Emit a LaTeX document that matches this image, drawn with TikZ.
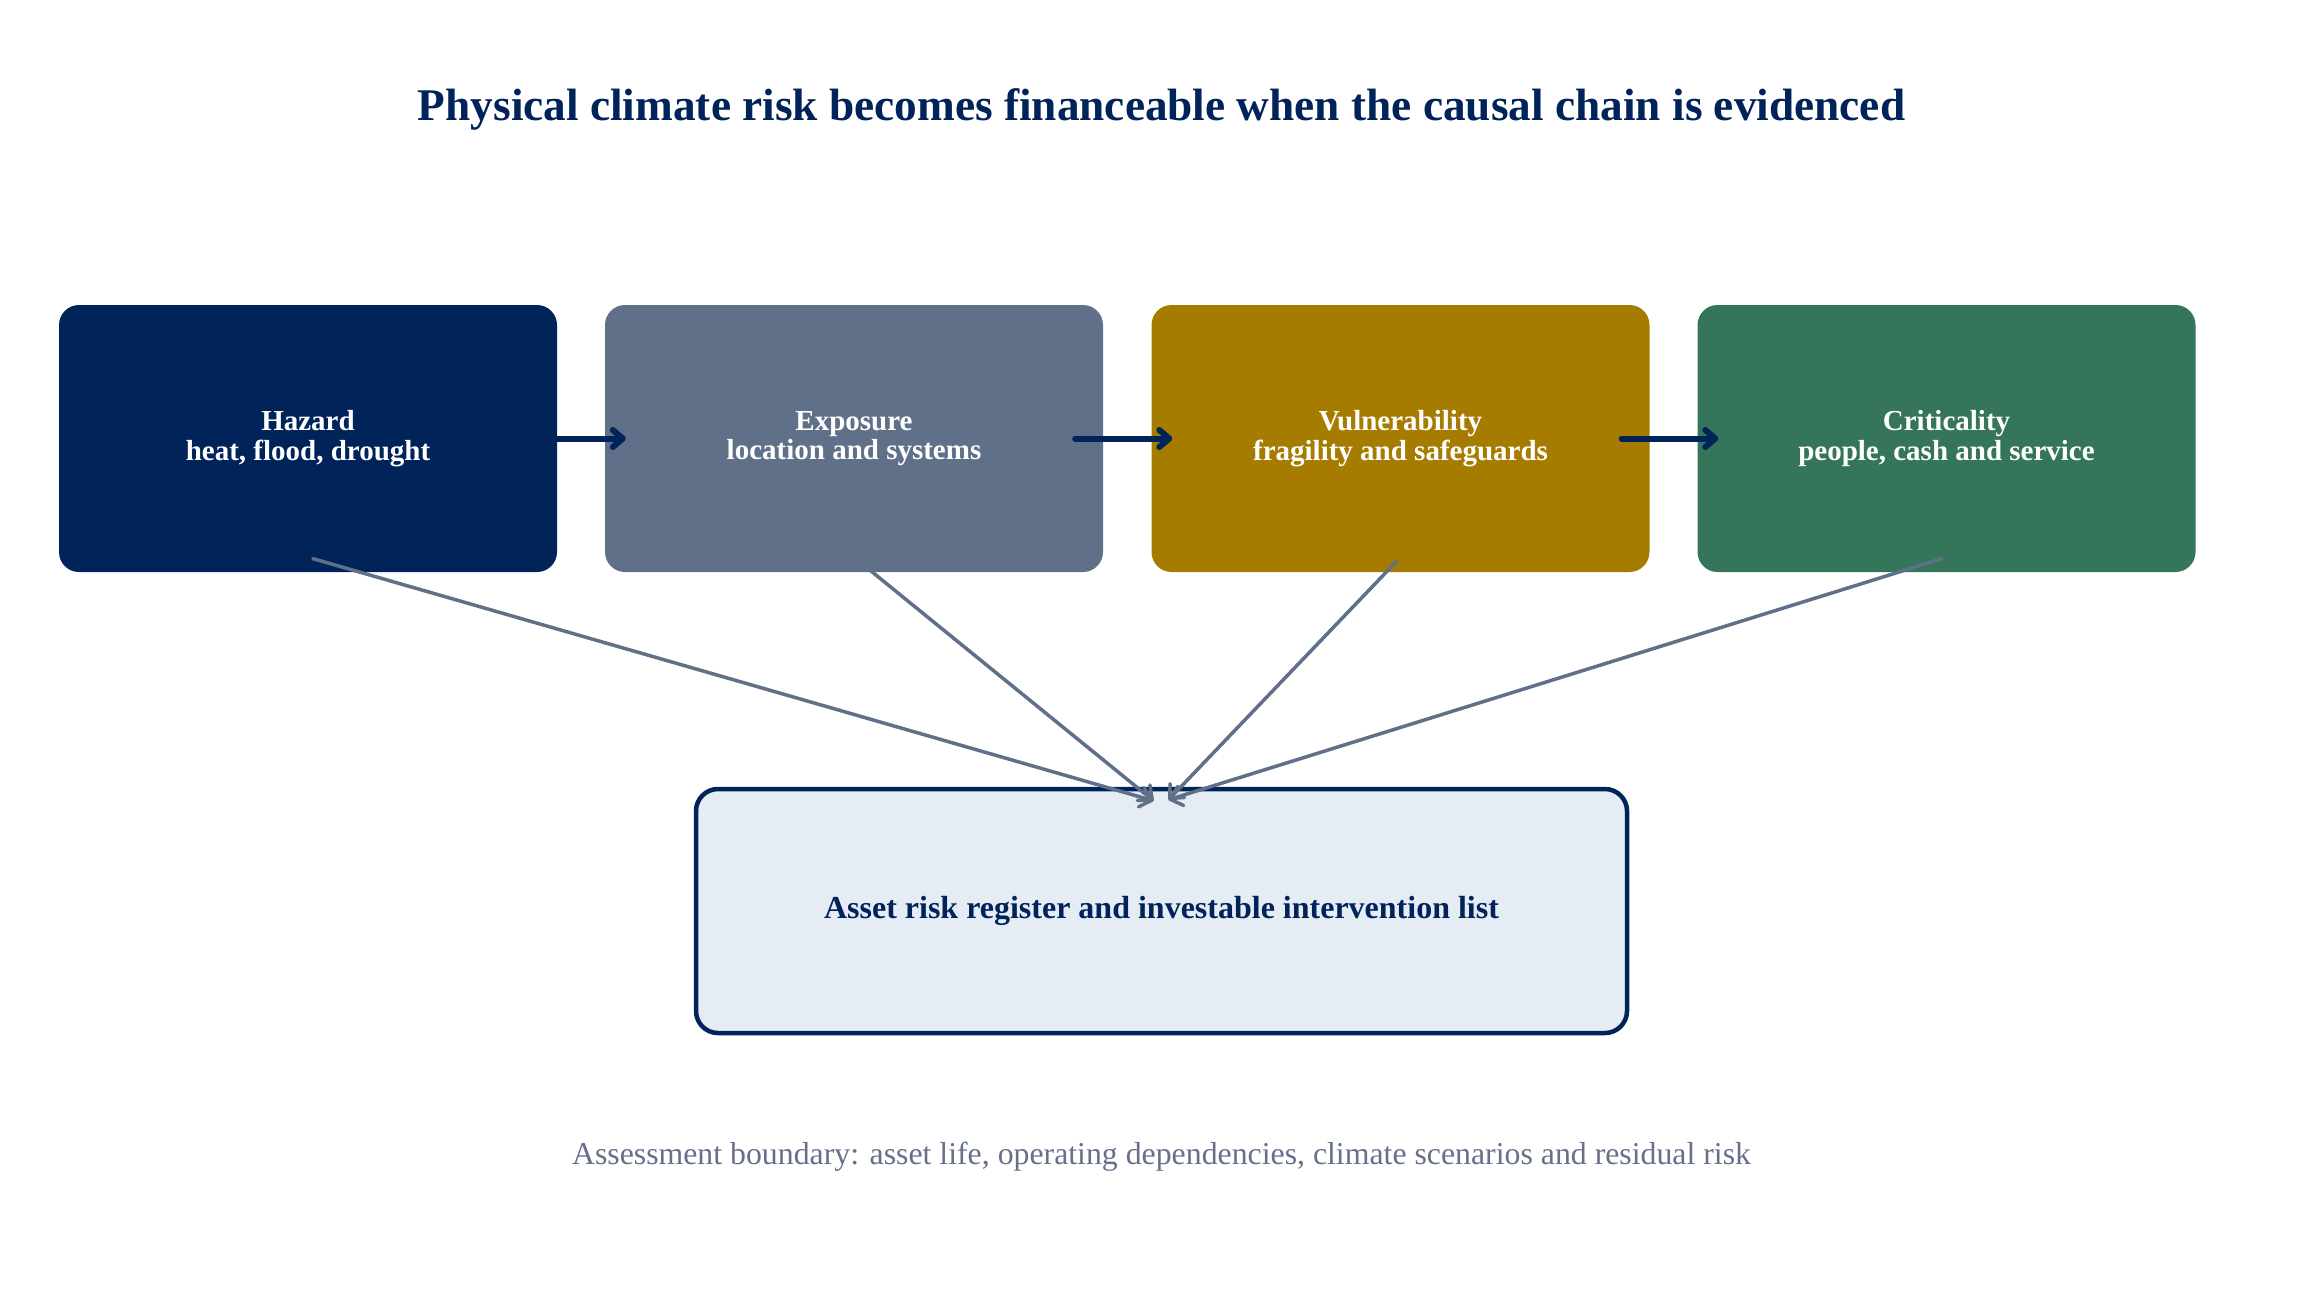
\documentclass[tikz,border=0pt]{standalone}
\usepackage{fontspec}
\setmainfont{Liberation Serif}
\usetikzlibrary{arrows.meta}
\definecolor{navy}{RGB}{0,35,90}
\definecolor{slate}{RGB}{97,112,137}
\definecolor{gold}{RGB}{166,124,0}
\definecolor{green}{RGB}{53,118,90}
\definecolor{lightfill}{RGB}{230,236,244}
\definecolor{footgray}{RGB}{102,112,138}
\tikzset{
  stagebox/.style={rectangle, rounded corners=20pt, minimum width=498pt, minimum height=267pt,
    inner sep=0pt, text=white, align=center, font=\fontsize{29}{29.6}\selectfont\bfseries},
  outbox/.style={rectangle, rounded corners=22pt, minimum width=931pt, minimum height=244pt,
    draw=navy, line width=4.5pt, fill=lightfill, text=navy, inner sep=0pt,
    font=\fontsize{32}{36}\selectfont\bfseries},
  chainarrow/.style={draw=navy, line width=6pt, line cap=round,
    -{Straight Barb[length=10pt,width=17pt,round]}},
  fanarrow/.style={draw=slate, line width=3.5pt, line cap=round, shorten <=5pt,
    -{Straight Barb[length=11pt,width=20pt,round]}},
}
\begin{document}
\begin{tikzpicture}[x=1pt,y=-1pt]
\useasboundingbox (0,0) rectangle (2323,1288);
\fill[white] (0,0) rectangle (2323,1288);

\node[text=navy, font=\fontsize{45.3}{52}\selectfont\bfseries] (title) at (1161.5,109)
  {Physical climate risk becomes financeable when the causal chain is evidenced};

\node[stagebox, fill=navy]  (haz)  at (308,438.5)  {Hazard\\heat, flood, drought};
\node[stagebox, fill=slate] (expo) at (854,438.5)  {Exposure\\location and systems};
\node[stagebox, fill=gold]  (vul)  at (1400.5,438.5) {Vulnerability\\fragility and safeguards};
\node[stagebox, fill=green] (crit) at (1946.5,438.5) {Criticality\\people, cash and service};

\node[outbox] (out) at (1161.5,911) {Asset risk register and investable intervention list};

\node[text=footgray, font=\fontsize{31.8}{36}\selectfont] (foot) at (1161.5,1157)
  {Assessment boundary: asset life, operating dependencies, climate scenarios and residual risk};

\draw[chainarrow] ([xshift=-28pt]haz.east)  -- ([xshift=21pt]expo.west);
\draw[chainarrow] ([xshift=-28pt]expo.east) -- ([xshift=21pt]vul.west);
\draw[chainarrow] ([xshift=-28pt]vul.east)  -- ([xshift=21pt]crit.west);

\draw[fanarrow] ([yshift=15pt]haz.south)  -- ([xshift=-8pt,yshift=-14pt]out.north);
\draw[fanarrow] ([yshift=15pt]expo.south) -- ([xshift=-8pt,yshift=-14pt]out.north);
\draw[fanarrow] ([yshift=15pt]vul.south)  -- ([xshift=7pt,yshift=-13pt]out.north);
\draw[fanarrow] ([yshift=15pt]crit.south) -- ([xshift=7pt,yshift=-13pt]out.north);
\end{tikzpicture}
\end{document}
